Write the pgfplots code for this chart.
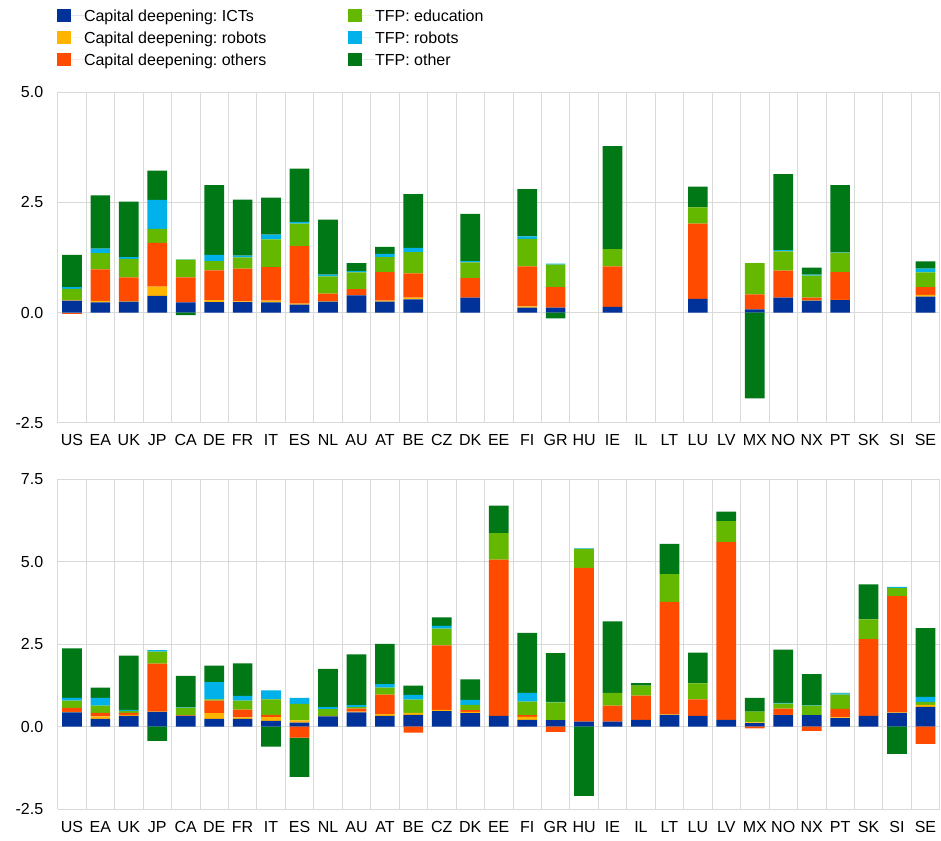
\documentclass[border=0pt]{standalone}
\usepackage{fontspec}
\setmainfont{Liberation Sans}
\usepackage{pgfplots}
\usepackage{pgfplotstable}
\pgfplotsset{compat=1.18}
\definecolor{cict}{HTML}{003299}
\definecolor{crob}{HTML}{FFB400}
\definecolor{coth}{HTML}{FF4B00}
\definecolor{cedu}{HTML}{65B800}
\definecolor{ctrob}{HTML}{00B1EA}
\definecolor{ctoth}{HTML}{007816}
\definecolor{gridc}{HTML}{D9D9D9}

% Panel 1: positive parts
\pgfplotstableread{
x ict rob oth edu trob toth
0 0.27 0.02 0 0.25 0.04 0.73
1 0.23 0.035 0.715 0.37 0.10 1.21
2 0.25 0.01 0.54 0.42 0.04 1.26
3 0.38 0.21 0.99 0.32 0.66 0.66
4 0.23 0 0.57 0.40 0.01 0
5 0.235 0.045 0.68 0.21 0.14 1.58
6 0.235 0.02 0.74 0.26 0.04 1.27
7 0.23 0.04 0.76 0.63 0.11 0.84
8 0.18 0.02 1.31 0.51 0.04 1.21
9 0.25 0.01 0.17 0.39 0.04 1.25
10 0.39 0 0.14 0.38 0.03 0.18
11 0.25 0.02 0.65 0.34 0.07 0.16
12 0.30 0.04 0.55 0.48 0.10 1.22
13 0 0 0 0 0 0
14 0.34 0 0.44 0.36 0.03 1.07
15 0 0 0 0 0 0
16 0.11 0.03 0.91 0.62 0.06 1.07
17 0.11 0 0.47 0.51 0.02 0
18 0 0 0 0 0 0
19 0.13 0 0.92 0.39 0 2.34
20 0 0 0 0 0 0
21 0 0 0 0 0 0
22 0.31 0 1.71 0.37 0 0.47
23 0 0 0 0 0 0
24 0.07 0 0.34 0.71 0 0
25 0.34 0 0.61 0.44 0.03 1.72
26 0.27 0.01 0.06 0.50 0.02 0.16
27 0.28 0.01 0.63 0.44 0.01 1.52
28 0 0 0 0 0 0
29 0 0 0 0 0 0
30 0.36 0.04 0.18 0.33 0.09 0.16
}\topPos
% Panel 1: negative parts
\pgfplotstableread{
x oth toth
0 -0.02 0
4 0 -0.06
17 0 -0.13
24 0 -1.95
}\topNeg
% Panel 2: positive parts
\pgfplotstableread{
x ict rob oth edu trob toth
0 0.43 0.02 0.12 0.22 0.08 1.50
1 0.24 0.07 0.11 0.22 0.23 0.31
2 0.33 0.03 0.06 0.06 0.03 1.64
3 0.45 0.01 1.45 0.36 0.05 0
4 0.33 0 0.01 0.24 0.01 0.95
5 0.24 0.17 0.38 0.04 0.52 0.50
6 0.24 0.04 0.24 0.27 0.14 0.99
7 0.18 0.11 0.07 0.47 0.27 0
8 0.12 0.07 0 0.50 0.18 0
9 0.31 0.01 0.01 0.20 0.06 1.16
10 0.43 0.03 0.09 0.04 0.06 1.54
11 0.33 0.05 0.59 0.21 0.11 1.22
12 0.36 0.06 0 0.40 0.14 0.28
13 0.47 0.04 1.95 0.51 0.08 0.26
14 0.41 0.04 0.05 0.16 0.15 0.62
15 0.33 0 4.73 0.80 0 0.83
16 0.21 0.09 0.05 0.41 0.26 1.82
17 0.20 0 0 0.54 0.01 1.48
18 0.15 0 4.66 0.57 0.02 0
19 0.15 0 0.49 0.38 0 2.17
20 0.21 0 0.73 0.30 0 0.08
21 0.36 0.01 3.41 0.84 0 0.91
22 0.33 0 0.50 0.48 0 0.93
23 0.21 0 5.38 0.63 0 0.29
24 0.11 0.02 0 0.33 0 0.41
25 0.35 0.01 0.19 0.15 0.02 1.61
26 0.35 0 0 0.29 0.01 0.94
27 0.26 0.02 0.26 0.43 0.04 0.01
28 0.33 0 2.32 0.60 0 1.06
29 0.42 0.01 3.52 0.25 0.03 0
30 0.60 0.06 0 0.09 0.15 2.08
}\botPos
% Panel 2: negative parts
\pgfplotstableread{
x oth toth
3 0 -0.43
7 0 -0.60
8 -0.33 -1.19
12 -0.18 0
17 -0.16 0
18 0 -2.09
24 -0.05 0
26 -0.13 0
29 0 -0.82
30 -0.52 0
}\botNeg

\newcommand{\f}{\fontsize{16bp}{19bp}\selectfont}

\pgfplotsset{
  base/.style={
    scale only axis, width=882bp, height=330.4bp,
    xmin=-0.5, xmax=30.5,
    ybar stacked, bar width=19.7bp,
    axis line style={draw=none},
    major tick length=0pt, minor tick length=0pt,
  },
  panel/.style={base,
    xtick={0,...,30},
    xticklabels={US,EA,UK,JP,CA,DE,FR,IT,ES,NL,AU,AT,BE,CZ,DK,EE,FI,GR,HU,IE,IL,LT,LU,LV,MX,NO,NX,PT,SK,SI,SE},
    minor xtick={-0.5,0.5,...,30.5},
    xmajorgrids=false, xminorgrids=true, ymajorgrids=true,
    grid style={gridc, line width=0.8bp},
    minor grid style={gridc, line width=0.8bp},
    ticklabel style={font=\f},
    xticklabel style={yshift=-6.5bp},
    yticklabel style={xshift=-9bp},
  },
  over/.style={base, hide axis},
}

\begin{document}
\frenchspacing
\f
\begin{tikzpicture}
\path[use as bounding box] (0,0) rectangle (941bp,841bp);

% ---------- Top panel ----------
\begin{axis}[panel, at={(57.7bp,418.3bp)}, anchor=south west,
  ymin=-2.5, ymax=5,
  ytick={-2.5,0,2.5,5}, yticklabels={-2.5,0.0,2.5,5.0},
  legend columns=2,
  legend cell align=left,
  legend image code/.code={\fill[#1] (0bp,-6.5bp) rectangle (14bp,6.5bp); \path (14bp,0bp) -- (27bp,0bp);},
  legend style={at={(axis description cs:0,1.258)}, anchor=north west, xshift=-0.7bp,
    draw=none, fill=none, inner sep=0pt, outer sep=0pt, font=\f,
    row sep=5.4bp, column sep=0pt,
    nodes={inner sep=0pt, text height=14bp, text depth=2.6bp},
    /tikz/every even column/.append style={column sep=81.7bp}},
]
\addlegendimage{fill=cict, draw=none}\addlegendentry{Capital deepening: ICTs}
\addlegendimage{fill=cedu, draw=none}\addlegendentry{TFP: education}
\addlegendimage{fill=crob, draw=none}\addlegendentry{Capital deepening: robots}
\addlegendimage{fill=ctrob, draw=none}\addlegendentry{TFP: robots}
\addlegendimage{fill=coth, draw=none}\addlegendentry{Capital deepening: others}
\addlegendimage{fill=ctoth, draw=none}\addlegendentry{TFP: other}
\addplot[fill=cict, draw=none, forget plot] table[x=x, y=ict]{\topPos};
\addplot[fill=crob, draw=none, forget plot] table[x=x, y=rob]{\topPos};
\addplot[fill=coth, draw=none, forget plot] table[x=x, y=oth]{\topPos};
\addplot[fill=cedu, draw=none, forget plot] table[x=x, y=edu]{\topPos};
\addplot[fill=ctrob, draw=none, forget plot] table[x=x, y=trob]{\topPos};
\addplot[fill=ctoth, draw=none, forget plot] table[x=x, y=toth]{\topPos};
\end{axis}
\begin{axis}[over, at={(57.7bp,418.3bp)}, anchor=south west, ymin=-2.5, ymax=5]
\addplot[fill=coth, draw=none] table[x=x, y=oth]{\topNeg};
\addplot[fill=ctoth, draw=none] table[x=x, y=toth]{\topNeg};
\end{axis}

% ---------- Bottom panel ----------
\begin{axis}[panel, at={(57.7bp,31.7bp)}, anchor=south west,
  ymin=-2.5, ymax=7.5,
  ytick={-2.5,0,2.5,5,7.5}, yticklabels={-2.5,0.0,2.5,5.0,7.5},
]
\addplot[fill=cict, draw=none] table[x=x, y=ict]{\botPos};
\addplot[fill=crob, draw=none] table[x=x, y=rob]{\botPos};
\addplot[fill=coth, draw=none] table[x=x, y=oth]{\botPos};
\addplot[fill=cedu, draw=none] table[x=x, y=edu]{\botPos};
\addplot[fill=ctrob, draw=none] table[x=x, y=trob]{\botPos};
\addplot[fill=ctoth, draw=none] table[x=x, y=toth]{\botPos};
\end{axis}
\begin{axis}[over, at={(57.7bp,31.7bp)}, anchor=south west, ymin=-2.5, ymax=7.5]
\addplot[fill=coth, draw=none] table[x=x, y=oth]{\botNeg};
\addplot[fill=ctoth, draw=none] table[x=x, y=toth]{\botNeg};
\end{axis}
\end{tikzpicture}
\end{document}
